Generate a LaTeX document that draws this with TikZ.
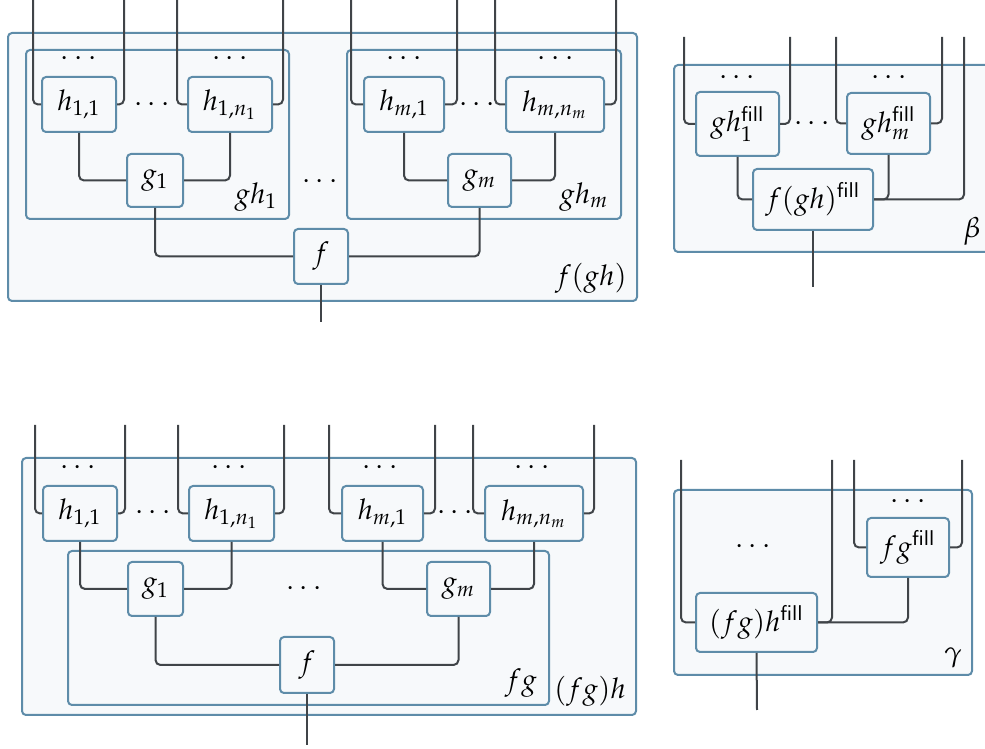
\documentclass[tikz,border=0pt]{standalone}
\usepackage{mathpazo}
\definecolor{bcol}{HTML}{5E8CA9}
\definecolor{fcol}{HTML}{F7F9FB}
\definecolor{wcol}{HTML}{404448}
\newdimen\u
\u=0.421pt
\newcommand{\dts}{$\cdots$}
\newcommand{\fl}{\mathsf{fill}}
\tikzset{
  every node/.style={font=\fontsize{12}{14}\selectfont},
  frame/.style={draw=bcol, fill=fcol, line width=2\u, rounded corners=4\u, inner sep=0pt},
  mbox/.style={draw=bcol, fill=fcol, line width=2\u, rounded corners=4\u, inner sep=0pt},
  wire/.style={draw=wcol, line width=2\u, rounded corners=5\u},
  lbl/.style={inner sep=0pt},
}
\newcommand{\bx}[6]{\node[mbox, minimum width=#4\u, minimum height=#5\u] (#1) at (#2,#3) {#6};}
\newcommand{\fr}[5]{\node[frame, minimum width=#4\u, minimum height=#5\u] (#1) at (#2,#3) {};}
\begin{document}
\begin{tikzpicture}[x=\u,y=-\u]
\useasboundingbox (0,0) rectangle (985,749);
\clip (0,0) rectangle (985,749);
% ================= top-left f(gh) =================
\fr{A}{322.5}{167}{629}{268}
\fr{AG1}{157.5}{134.5}{263}{169}
\fr{AGm}{484}{134.5}{274}{169}
\foreach \n/\x in {a1/33,a2/124,a3/177,a4/283,a5/351,a6/457,a7/495,a8/616}
  \coordinate (\n) at (\x,0);
\coordinate (aout) at (321,322);
\node[lbl] (Agh1) at (256,197) {$gh_1$};
\node[lbl] (Aghm) at (584,197) {$gh_m$};
\node[lbl] (Afgh) at (591,278) {$f(gh)$};
\node[lbl] (Ad1) at (78.5,59) {\dts};
\node[lbl] (Ad2) at (230,59) {\dts};
\node[lbl] (Ad3) at (404,59) {\dts};
\node[lbl] (Ad4) at (555.5,59) {\dts};
\node[lbl] (Ad5) at (152,105) {\dts};
\node[lbl] (Ad6) at (477,105) {\dts};
\node[lbl] (Ad7) at (320,182) {\dts};
\bx{Ah11}{79}{104.5}{74}{55}{$h_{1,1}$}
\bx{Ah1n}{230}{104.5}{84}{55}{$h_{1,n_1}$}
\bx{Ahm1}{404}{104.5}{80}{55}{$h_{m,1}$}
\bx{Ahmn}{555}{104.5}{98}{55}{$h_{m,n_m}$}
\bx{Ag1}{155}{180.5}{56}{53}{$g_1$}
\bx{Agm}{479.5}{180.5}{63}{53}{$g_m$}
\bx{Af}{321}{256.5}{54}{55}{$f$}
\draw[wire] (a1) |- (Ah11.west);
\draw[wire] (a2) |- (Ah11.east);
\draw[wire] (a3) |- (Ah1n.west);
\draw[wire] (a4) |- (Ah1n.east);
\draw[wire] (a5) |- (Ahm1.west);
\draw[wire] (a6) |- (Ahm1.east);
\draw[wire] (a7) |- (Ahmn.west);
\draw[wire] (a8) |- (Ahmn.east);
\draw[wire] (Ah11.south) |- (Ag1.west);
\draw[wire] (Ah1n.south) |- (Ag1.east);
\draw[wire] (Ahm1.south) |- (Agm.west);
\draw[wire] (Ahmn.south) |- (Agm.east);
\draw[wire] (Ag1.south) |- (Af.west);
\draw[wire] (Agm.south) |- (Af.east);
\draw[wire] (Af.south) -- (aout);
% ================= top-right beta =================
\fr{B}{834.5}{158.5}{321}{187}
\foreach \n/\x in {b1/684,b2/790,b3/836,b4/942,b5/964}
  \coordinate (\n) at (\x,37);
\coordinate (bout) at (813,287);
\node[lbl] (Bd1) at (737,78) {\dts};
\node[lbl] (Bd2) at (889,78) {\dts};
\node[lbl] (Bd3) at (812,124) {\dts};
\node[lbl] (Bbeta) at (972,231) {$\beta$};
\bx{Bg1}{737.5}{124}{83}{64}{$gh_1^{\fl}$}
\bx{Bgm}{888.5}{123.5}{83}{61}{$gh_m^{\fl}$}
\bx{Bf}{813}{199.5}{120}{61}{$f(gh)^{\fl}$}
\draw[wire] (b1) |- (Bg1.west);
\draw[wire] (b2) |- (Bg1.east);
\draw[wire] (b3) |- (Bgm.west);
\draw[wire] (b4) |- (Bgm.east);
\draw[wire] (b5) |- (Bf.east);
\draw[wire] (Bg1.south) |- (Bf.west);
\draw[wire] (Bgm.south) |- (Bf.east);
\draw[wire] (Bf.south) -- (bout);
% ================= bottom-left (fg)h =================
\fr{C}{329}{586.5}{614}{257}
\foreach \n/\x in {c1/35,c2/125,c3/178,c4/284,c5/329,c6/435,c7/473,c8/594}
  \coordinate (\n) at (\x,425);
\coordinate (cout) at (307,745);
\node[lbl] (Cd1) at (78,468) {\dts};
\node[lbl] (Cd2) at (229,468) {\dts};
\node[lbl] (Cd3) at (380,468) {\dts};
\node[lbl] (Cd4) at (532,468) {\dts};
\node[lbl] (Cd5) at (153,513) {\dts};
\node[lbl] (Cd6) at (455,513) {\dts};
\bx{Ch11}{80}{513.5}{74}{55}{$h_{1,1}$}
\bx{Ch1n}{231.5}{513.5}{85}{55}{$h_{1,n_1}$}
\bx{Chm1}{382.5}{513.5}{81}{55}{$h_{m,1}$}
\bx{Chmn}{534}{513.5}{98}{55}{$h_{m,n_m}$}
\draw[wire] (c1) |- (Ch11.west);
\draw[wire] (c2) |- (Ch11.east);
\draw[wire] (c3) |- (Ch1n.west);
\draw[wire] (c4) |- (Ch1n.east);
\draw[wire] (c5) |- (Chm1.west);
\draw[wire] (c6) |- (Chm1.east);
\draw[wire] (c7) |- (Chmn.west);
\draw[wire] (c8) |- (Chmn.east);
\fr{CFG}{308.5}{628}{481}{154}
\node[lbl] (Cd7) at (304,589) {\dts};
\node[lbl] (Cfg) at (521,683) {$fg$};
\node[lbl] (Cfgh) at (590,691) {$(fg)h$};
\bx{Cg1}{155.5}{589}{55}{54}{$g_1$}
\bx{Cgm}{458.5}{589}{63}{54}{$g_m$}
\bx{Cf}{307}{665}{54}{56}{$f$}
\draw[wire] (Ch11.south) |- (Cg1.west);
\draw[wire] (Ch1n.south) |- (Cg1.east);
\draw[wire] (Chm1.south) |- (Cgm.west);
\draw[wire] (Chmn.south) |- (Cgm.east);
\draw[wire] (Cg1.south) |- (Cf.west);
\draw[wire] (Cgm.south) |- (Cf.east);
\draw[wire] (Cf.south) -- (cout);
% ================= bottom-right gamma =================
\fr{D}{823}{582.5}{298}{185}
\foreach \n/\x in {d1/681,d2/832,d3/854,d4/962}
  \coordinate (\n) at (\x,460);
\coordinate (dout) at (757,710);
\node[lbl] (Dd1) at (908,502) {\dts};
\node[lbl] (Dd2) at (753,547) {\dts};
\node[lbl] (Dgamma) at (953,658) {$\gamma$};
\bx{Dfg}{908}{547.5}{82}{59}{$fg^{\fl}$}
\bx{Dfgh}{756.5}{622.5}{121}{59}{$(fg)h^{\fl}$}
\draw[wire] (d1) |- (Dfgh.west);
\draw[wire] (d2) |- (Dfgh.east);
\draw[wire] (d3) |- (Dfg.west);
\draw[wire] (d4) |- (Dfg.east);
\draw[wire] (Dfg.south) |- (Dfgh.east);
\draw[wire] (Dfgh.south) -- (dout);
\end{tikzpicture}
\end{document}
